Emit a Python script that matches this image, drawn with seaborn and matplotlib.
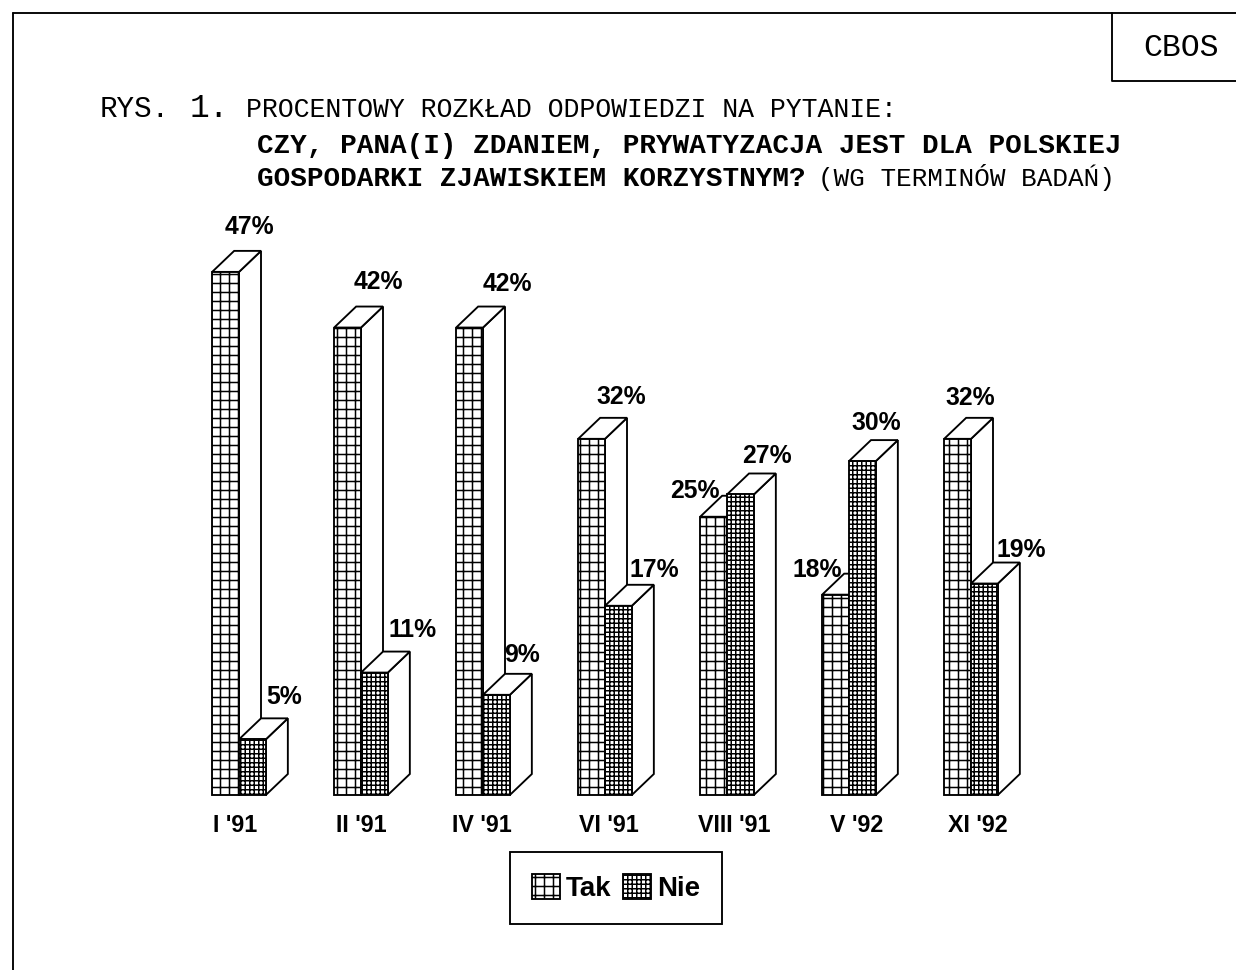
# -*- coding: utf-8 -*-
import pandas as pd
import matplotlib
matplotlib.use("Agg")
import matplotlib.pyplot as plt
import seaborn as sns
from matplotlib.lines import Line2D
from matplotlib.patches import Patch, Polygon
from matplotlib.transforms import ScaledTranslation

# data
terminy = ["I '91", "II '91", "IV '91", "VI '91", "VIII '91", "V '92", "XI '92"]
tak = [47, 42, 42, 32, 25, 18, 32]
nie = [5, 11, 9, 17, 27, 30, 19]

# label offsets from the top left corner of each bar, pixels
tak_off = [(37, 45), (44, 46), (51, 44), (43, 42), (-5, 26), (-5, 25), (26, 41)]
nie_off = [(45, 42), (52, 43), (39, 40), (49, 36), (40, 38), (27, 38), (50, 34)]
tick_shift = [-4, 0, -1, 4, 7, 8, 7]

W, H, DPI = 1236, 970, 108
PX = 72 / DPI  # points per pixel
LW = 1.25

sns.set_theme(style="white")
plt.rcParams["font.family"] = ["Liberation Sans", "DejaVu Sans"]
plt.rcParams["hatch.linewidth"] = 1.0
plt.rcParams["hatch.color"] = "black"
plt.rcParams["text.color"] = "black"

df = pd.DataFrame({"termin": terminy * 2,
                   "odp": ["Tak"] * len(tak) + ["Nie"] * len(nie),
                   "pct": tak + nie})

fig = plt.figure(figsize=(W / DPI, H / DPI), dpi=DPI, facecolor="white")
ax = fig.add_axes([178 / W, (H - 795) / H, 854 / W, 556.5 / H])
ax.patch.set_alpha(0)

sns.barplot(data=df, x="termin", y="pct", hue="odp", hue_order=["Tak", "Nie"],
            palette={"Tak": "white", "Nie": "white"}, saturation=1, width=0.44,
            gap=0, edgecolor="black", linewidth=LW, errorbar=None, legend=False,
            ax=ax)
ax.set_xlim(-0.5, 6.5)
ax.set_ylim(0, 50)
ax.set_xlabel("")
ax.set_ylabel("")
ax.set_yticks([])
sns.despine(ax=ax, left=True, bottom=True)

# depth of the fake 3D bars in data units
dx = 22 / (854 / 7)
dy = 21 / (556.5 / 50)


def ramka_3d(bar, z):
    x0, x1, y1 = bar.get_x(), bar.get_x() + bar.get_width(), bar.get_height()
    side = [(x1, 0), (x1 + dx, dy), (x1 + dx, y1 + dy), (x1, y1)]
    top = [(x0, y1), (x0 + dx, y1 + dy), (x1 + dx, y1 + dy), (x1, y1)]
    for pts in (side, top):
        ax.add_patch(Polygon(pts, closed=True, fc="white", ec="black", lw=LW,
                             zorder=z, clip_on=False))


hatche = ["++", "++++"]
for i, (kont, hatch, offs) in enumerate(zip(ax.containers, hatche, [tak_off, nie_off])):
    for bar, val, off in zip(kont, [tak, nie][i], offs):
        ramka_3d(bar, 2 + i)
        bar.set_hatch(hatch)
        bar.set_zorder(2.5 + i)
        bar.set_clip_on(False)
        ax.annotate(f"{val}%", (bar.get_x(), val), xytext=(off[0] * PX, off[1] * PX),
                    textcoords="offset points", ha="center", va="center",
                    fontsize=16.5, fontweight="bold", color="black", zorder=6,
                    annotation_clip=False)

ax.tick_params(axis="x", length=0, pad=13)
for lab, s in zip(ax.get_xticklabels(), tick_shift):
    lab.set_fontsize(15.5)
    lab.set_fontweight("bold")
    lab.set_color("black")
    lab.set_transform(lab.get_transform() + ScaledTranslation(s / DPI, 0, fig.dpi_scale_trans))

uchwyty = [Patch(fc="white", ec="black", lw=LW, hatch="++", label="Tak"),
           Patch(fc="white", ec="black", lw=LW, hatch="++++", label="Nie")]
leg = fig.legend(handles=uchwyty, ncol=2, loc="center",
                 bbox_to_anchor=(616 / W, (H - 888) / H), frameon=True, fancybox=False,
                 edgecolor="black", framealpha=1, handlelength=1.0, handleheight=1.0,
                 handletextpad=0.2, columnspacing=0.45, borderpad=0.8, borderaxespad=0,
                 labelcolor="black",
                 prop={"family": "Liberation Sans", "weight": "bold", "size": 18.5})
leg.get_frame().set_linewidth(LW)


def linia(xs, ys):
    fig.add_artist(Line2D([x / W for x in xs], [1 - y / H for y in ys], color="black", lw=LW))


linia([13, W], [13, 13])
linia([13, 13], [13, H])
linia([1112, 1112, W], [13, 81, 81])


def napis(x, y, s, size, weight="normal"):
    fig.text(x / W, 1 - y / H, s, family="Liberation Mono", fontsize=size,
             fontweight=weight, ha="left", va="baseline", color="black")


napis(1143, 56, "CBOS", 21)
napis(100, 117, "RYS.", 19.5)
napis(190, 117, "1.", 22)
napis(246, 117, "PROCENTOWY ROZKŁAD ODPOWIEDZI NA PYTANIE:", 17.7)
napis(257, 153, "CZY, PANA(I) ZDANIEM, PRYWATYZACJA JEST DLA POLSKIEJ", 18.4, "bold")
napis(257, 186, "GOSPODARKI ZJAWISKIEM KORZYSTNYM?", 18.4, "bold")
napis(818, 186, "(WG TERMINÓW BADAŃ)", 17.3)

plt.savefig("out.png", dpi=DPI)
